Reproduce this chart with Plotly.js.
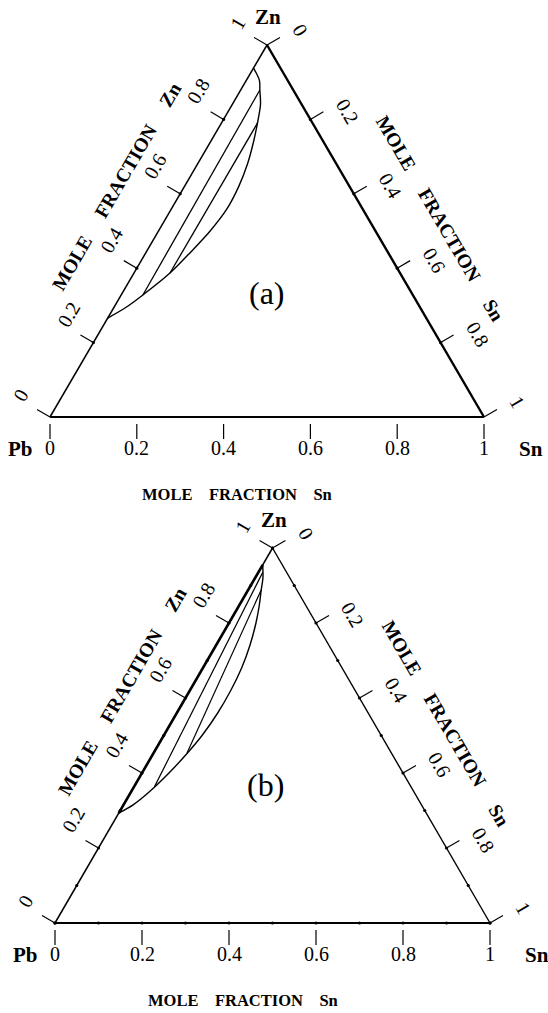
<!DOCTYPE html>
<html>
<head>
<meta charset="utf-8">
<script src="https://cdn.plot.ly/plotly-3.0.1.min.js"></script>
<style>html,body{margin:0;padding:0;background:#fff;}</style>
</head>
<body>
<div id="chart" style="width:548px;height:1013px;"></div>
<script>
// ---- Composition scales (mole fractions) ----
const tickValues = [0, 0.2, 0.4, 0.6, 0.8, 1];
const tickLabels = ['0', '0.2', '0.4', '0.6', '0.8', '1'];
const minorValues = [0.1, 0.3, 0.5, 0.7, 0.9];

// ---- (a) liquid miscibility gap: boundary, from the Zn-rich to the Pb-rich binary end ----
const gapA_Zn = [0.938, 0.905, 0.879, 0.84, 0.79, 0.74, 0.68, 0.62, 0.56, 0.50, 0.445, 0.387, 0.328, 0.295, 0.266];
const gapA_Sn = [0.000, 0.030, 0.044, 0.065, 0.083, 0.099, 0.115, 0.125, 0.128, 0.119, 0.103, 0.083, 0.050, 0.028, 0.000];
// (a) tie lines (Zn-rich end, Pb-rich end)
const tieA1_Zn = [0.879, 0.328];
const tieA1_Sn = [0.044, 0.050];
const tieA2_Zn = [0.790, 0.387];
const tieA2_Sn = [0.083, 0.083];

// ---- (b) liquid miscibility gap ----
const gapB_Zn = [0.955, 0.92, 0.888, 0.85, 0.80, 0.74, 0.68, 0.62, 0.56, 0.50, 0.45, 0.40, 0.35, 0.315, 0.293];
const gapB_Sn = [0.000, 0.018, 0.030, 0.045, 0.062, 0.078, 0.089, 0.094, 0.094, 0.088, 0.077, 0.062, 0.042, 0.022, 0.000];
// (b) binary tie line on the Pb-Zn edge and two ternary tie lines
const tieB0_Zn = [0.955, 0.293];
const tieB0_Sn = [0.000, 0.000];
const tieB1_Zn = [0.935, 0.363];
const tieB1_Sn = [0.010, 0.047];
const tieB2_Zn = [0.888, 0.453];
const tieB2_Sn = [0.030, 0.077];

// ---- layout of the two triangles (pixel frame of each) ----
const W = 548, H = 1013;
const FONT = '"Liberation Serif", "Times New Roman", Times, serif';
const NB = '\u00a0';

const panels = [
  {xa: 'x', ya: 'y', ox: 50, oy: 417, w: 434, h: 372, rightWidth: 2.4, minorDots: false,
   tag: '(a)', tagAt: [0.5, 0.333],
   gap: [gapA_Sn, gapA_Zn],
   ties: [[tieA1_Sn, tieA1_Zn, 1.3], [tieA2_Sn, tieA2_Zn, 1.3]]},
  {xa: 'x2', ya: 'y2', ox: 55, oy: 923, w: 435, h: 375, rightWidth: 1.4, minorDots: true,
   tag: '(b)', tagAt: [0.485, 0.368],
   gap: [gapB_Sn, gapB_Zn],
   ties: [[tieB0_Sn, tieB0_Zn, 2.6], [tieB1_Sn, tieB1_Zn, 1.2], [tieB2_Sn, tieB2_Zn, 1.2]]}
];

const traces = [];
const annotations = [];
const layout = {
  width: W, height: H, autosize: false,
  margin: {l: 0, r: 0, t: 0, b: 0, pad: 0},
  paper_bgcolor: '#fff', plot_bgcolor: 'rgba(0,0,0,0)',
  showlegend: false,
  annotations: annotations
};

// approximate width of a numeric label in em
function labelEm(s) {
  let e = 0;
  for (const c of s) e += (c === '.') ? 0.25 : 0.5;
  return e;
}

panels.forEach((p, i) => {
  const sfx = i === 0 ? '' : '2';
  // Axes: Cartesian X = Sn + Zn/2, Y = Zn, scaled so the triangle sits in its frame
  layout['xaxis' + sfx] = {
    domain: [0, 1], range: [-p.ox / p.w, (W - p.ox) / p.w],
    visible: false, fixedrange: true, anchor: 'y' + sfx
  };
  layout['yaxis' + sfx] = {
    domain: [0, 1], range: [-(H - p.oy) / p.h, p.oy / p.h],
    visible: false, fixedrange: true, anchor: 'x' + sfx
  };

  const X = (sn, zn) => sn + zn / 2;
  const Y = (sn, zn) => zn;
  // pixel offset -> data offset
  const dX = px => px / p.w;
  const dY = py => -py / p.h;

  const L = Math.hypot(p.w / 2, p.h);
  const alongL = [p.w / 2 / L, -p.h / L];   // Pb -> Zn
  const normL = [-p.h / L, -p.w / 2 / L];   // outward, left side
  const alongR = [p.w / 2 / L, p.h / L];    // Zn -> Sn
  const normR = [p.h / L, -p.w / 2 / L];    // outward, right side
  const ang = Math.atan2(p.h, p.w / 2) * 180 / Math.PI;

  const line = (xs, ys, width) => ({
    type: 'scatter', mode: 'lines', x: xs, y: ys,
    xaxis: p.xa, yaxis: p.ya, hoverinfo: 'skip',
    line: {color: '#000', width: width}
  });

  // triangle edges
  traces.push(line([X(0, 0), X(1, 0)], [Y(0, 0), Y(1, 0)], 2.0));
  traces.push(line([X(0, 0), X(0, 1)], [Y(0, 0), Y(0, 1)], 1.5));
  traces.push(line([X(0, 1), X(1, 0)], [Y(0, 1), Y(1, 0)], p.rightWidth));

  // tick marks
  const tx = [], ty = [];
  tickValues.forEach(v => {
    // bottom: mole fraction Sn
    tx.push(X(v, 0), X(v, 0), null);
    ty.push(Y(v, 0) + dY(7), Y(v, 0) + dY(22), null);
    // left: mole fraction Zn
    tx.push(X(0, v), X(0, v) + dX(15 * normL[0]), null);
    ty.push(Y(0, v), Y(0, v) + dY(15 * normL[1]), null);
    // right: mole fraction Sn
    tx.push(X(v, 1 - v), X(v, 1 - v) + dX(15 * normR[0]), null);
    ty.push(Y(v, 1 - v), Y(v, 1 - v) + dY(15 * normR[1]), null);
  });
  traces.push(Object.assign(line(tx, ty, 1.2), {connectgaps: false}));

  // small dots where the scales cross the edges
  const dotVals = p.minorDots ? tickValues.concat(minorValues) : tickValues.slice(1, 5);
  const mx = [], my = [];
  dotVals.forEach(v => {
    mx.push(X(0, v), X(v, 1 - v));
    my.push(Y(0, v), Y(v, 1 - v));
    if (p.minorDots) { mx.push(X(v, 0)); my.push(Y(v, 0)); }
  });
  traces.push({type: 'scatter', mode: 'markers', x: mx, y: my, xaxis: p.xa, yaxis: p.ya,
    hoverinfo: 'skip', marker: {color: '#000', size: 3.2, symbol: 'circle'}});

  // miscibility gap boundary and tie lines
  const gx = p.gap[0].map((sn, k) => X(sn, p.gap[1][k]));
  const gy = p.gap[0].map((sn, k) => Y(sn, p.gap[1][k]));
  traces.push(Object.assign(line(gx, gy, 1.4), {line: {color: '#000', width: 1.4, shape: 'spline', smoothing: 0.9}}));
  p.ties.forEach(t => {
    traces.push(line(t[0].map((sn, k) => X(sn, t[1][k])), t[0].map((sn, k) => Y(sn, t[1][k])), t[2]));
  });

  // tick labels
  const tf = {family: FONT, size: 20, color: '#000'};
  const ann = (x, y, text, extra) => annotations.push(Object.assign({
    xref: p.xa, yref: p.ya, x: x, y: y, text: text, showarrow: false,
    xanchor: 'center', yanchor: 'middle', font: tf
  }, extra || {}));

  tickValues.forEach((v, k) => {
    const lab = tickLabels[k];
    const half = labelEm(lab) * tf.size / 2 - 1;
    ann(X(v, 0), Y(v, 0), lab, {yshift: -31});
    const sl = [36 * normL[0] + half * alongL[0], 36 * normL[1] + half * alongL[1]];
    ann(X(0, v), Y(0, v), lab, {xshift: sl[0], yshift: -sl[1], textangle: -ang});
    const sr = [36 * normR[0] + half * alongR[0], 36 * normR[1] + half * alongR[1]];
    ann(X(v, 1 - v), Y(v, 1 - v), lab, {xshift: sr[0], yshift: -sr[1], textangle: ang});
  });

  // component names at the corners
  const bf = {family: FONT, size: 21, color: '#000'};
  ann(X(0, 0), Y(0, 0), '<b>Pb</b>', {xshift: -30, yshift: -32, font: bf});
  ann(X(1, 0), Y(1, 0), '<b>Sn</b>', {xshift: 47, yshift: -32, font: bf});
  ann(X(0, 1), Y(0, 1), '<b>Zn</b>', {xshift: 1, yshift: 28, font: bf});

  // axis titles
  const g4 = NB.repeat(4), g5 = NB.repeat(5);
  ann(X(0.5, 0), Y(0.5, 0), '<b>MOLE' + g4 + 'FRACTION' + g4 + 'Sn</b>',
      {xshift: -30, yshift: -77, font: {family: FONT, size: 16.5, color: '#000'}});
  const lc = [58 * normL[0], 58 * normL[1]];
  ann(X(0, 0.54), Y(0, 0.54), '<b>MOLE' + g5 + 'FRACTION' + g5 + 'Zn</b>',
      {xshift: lc[0], yshift: -lc[1], textangle: -ang, font: {family: FONT, size: 19.5, color: '#000'}});
  const rc = [62 * normR[0], 62 * normR[1]];
  ann(X(0.55, 0.45), Y(0.55, 0.45), '<b>MOLE' + g5 + 'FRACTION' + g5 + 'Sn</b>',
      {xshift: rc[0], yshift: -rc[1], textangle: ang, font: {family: FONT, size: 19.5, color: '#000'}});

  // panel tag
  ann(p.tagAt[0], p.tagAt[1], p.tag, {font: {family: FONT, size: 32, color: '#000'}});
});

Plotly.newPlot('chart', traces, layout, {staticPlot: true, displayModeBar: false});
</script>
</body>
</html>
